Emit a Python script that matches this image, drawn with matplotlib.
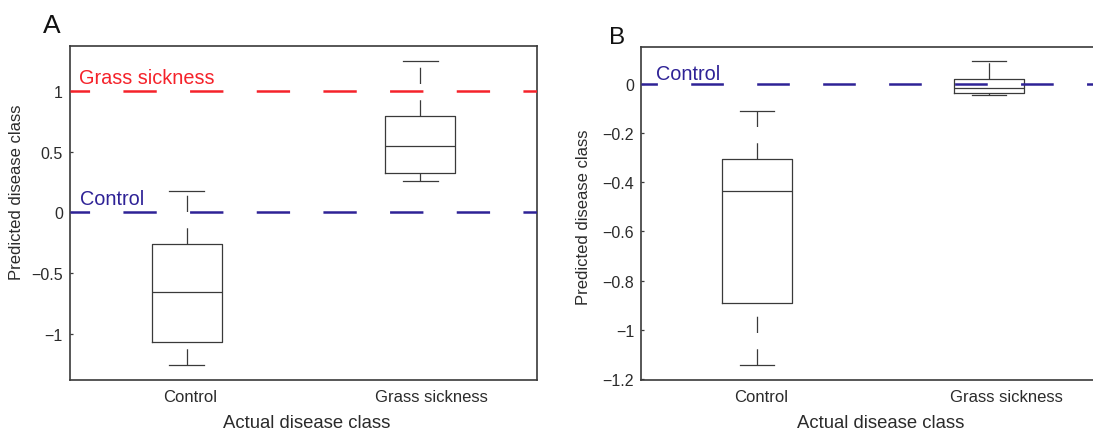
import matplotlib
matplotlib.use("Agg")
import matplotlib.pyplot as plt
import matplotlib.transforms as mtransforms

plt.rcParams['font.family'] = ['Liberation Sans', 'DejaVu Sans']
plt.rcParams['lines.scale_dashes'] = False  # dash lengths in points, not times linewidth

classes = ['Control', 'Grass sickness']
positions = [1, 2]

# panel A - box statistics (Control, Grass sickness)
a_low = [-1.253, 0.260]
a_q1 = [-1.067, 0.326]
a_med = [-0.653, 0.543]
a_q3 = [-0.263, 0.792]
a_high = [0.178, 1.247]
a_ref_values = [1, 0]
a_ref_names = ['Grass sickness', 'Control']
a_yticks = [-1, -0.5, 0, 0.5, 1]

# panel B
b_low = [-1.145, -0.045]
b_q1 = [-0.893, -0.037]
b_med = [-0.437, -0.018]
b_q3 = [-0.307, 0.018]
b_high = [-0.111, 0.091]
b_ref_values = [0]
b_ref_names = ['Control']
b_yticks = [-1.2, -1, -0.8, -0.6, -0.4, -0.2, 0]

ref_colors = {'Grass sickness': '#f5222a', 'Control': '#2e2296'}
box_col = '#3a3a3a'
text_col = '#2b2b2b'

fig = plt.figure(figsize=(10.93, 4.31), dpi=100)
axA = fig.add_axes([0.0638, 0.1160, 0.4278, 0.7756])
axB = fig.add_axes([0.5865, 0.1167, 0.4245, 0.7726])  # right side is cut off like the original


def draw_panel(ax, low, q1, med, q3, high, ref_values, ref_names, yticks, ylim,
               dash, dash_phase, name_pos, xlab_shift):
    stats = []
    for i in range(len(classes)):
        stats.append(dict(whislo=low[i], q1=q1[i], med=med[i], q3=q3[i],
                          whishi=high[i], fliers=[]))
    line = dict(color=box_col, lw=0.9)
    bp = ax.bxp(stats, positions=positions, widths=0.3, capwidths=0.15,
                showfliers=False, manage_ticks=False,
                boxprops=line, medianprops=line, capprops=line,
                whiskerprops=dict(color=box_col, lw=0.9, linestyle=(0, (11.7, 11.7))))
    # matlab draws the lower whisker from the cap up to the box
    for w in bp['whiskers'][0::2]:
        w.set_ydata(w.get_ydata()[::-1])

    # reference lines for each class value
    for v, nm, (tx, ty) in zip(ref_values, ref_names, name_pos):
        c = ref_colors[nm]
        ax.plot([0.5, 2.5], [v, v], color=c, lw=1.8,
                linestyle=(dash_phase, (dash, 24)), zorder=5)
        ax.text(tx, ty, nm, color=c, fontsize=14.3, ha='left', va='baseline')

    ax.set_xlim(0.5, 2.5)
    ax.set_ylim(*ylim)
    ax.set_yticks(yticks)
    ax.set_yticklabels([('%g' % t).replace('-', '\u2212') for t in yticks])
    ax.set_xticks(positions)
    ax.set_xticklabels(classes)
    ax.tick_params(axis='y', direction='in', length=2.2, width=0.9, color=box_col,
                   labelsize=11.5, labelcolor=text_col, pad=5)
    ax.tick_params(axis='x', length=0, labelsize=12, labelcolor=text_col, pad=6.5)
    for lab, sh in zip(ax.get_xticklabels(), xlab_shift):
        lab.set_transform(lab.get_transform() +
                          mtransforms.ScaledTranslation(sh / 100, 0, fig.dpi_scale_trans))
    for s in ax.spines.values():
        s.set_color(box_col)
        s.set_linewidth(1.2)


draw_panel(axA, a_low, a_q1, a_med, a_q3, a_high, a_ref_values, a_ref_names,
           a_yticks, (-1.379, 1.370), 24, 9.9, [(0.5395, 1.061), (0.544, 0.068)], [3, 11])
draw_panel(axB, b_low, b_q1, b_med, b_q3, b_high, b_ref_values, b_ref_names,
           b_yticks, (-1.203, 0.150), 23.5, 11.7, [(0.563, 0.019)], [4.5, 17.5])

# axis titles and panel letters
fig.text(17 / 1093, 0.5534, 'Predicted disease class', rotation=90, ha='center',
         va='center', fontsize=12, color=text_col)
fig.text(583 / 1093, 0.4965, 'Predicted disease class', rotation=90, ha='center',
         va='center', fontsize=12, color=text_col)
fig.text(307 / 1093, 2.5 / 431, 'Actual disease class', ha='center', va='baseline',
         fontsize=13.3, color=text_col)
fig.text(881 / 1093, 2.5 / 431, 'Actual disease class', ha='center', va='baseline',
         fontsize=13.3, color=text_col)
fig.text(52 / 1093, 1 - 26 / 431, 'A', ha='center', va='center', fontsize=19, color='#111111')
fig.text(617 / 1093, 1 - 37.5 / 431, 'B', ha='center', va='center', fontsize=17.5, color='#111111')

fig.savefig('out.png', dpi=100)
